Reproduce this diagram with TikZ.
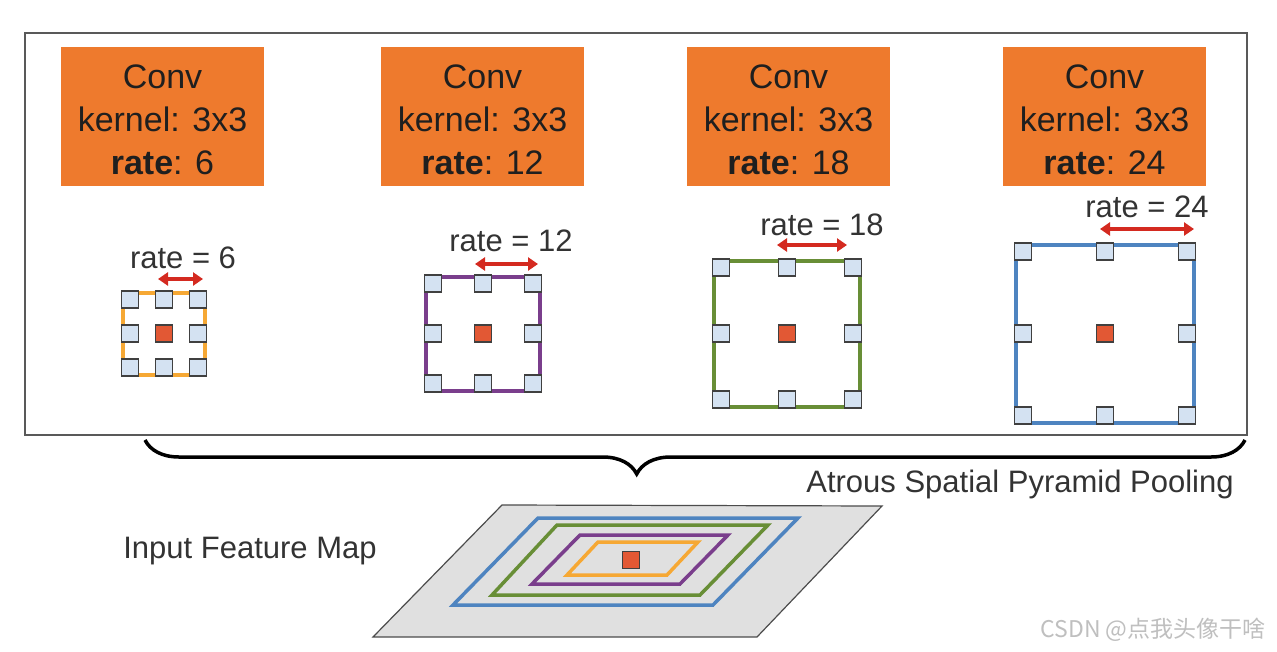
\documentclass[tikz,border=0pt]{standalone}
\usepackage{fontspec}
\setmainfont{Liberation Sans}
\newfontfamily\cjk{Noto Sans CJK SC}
\usetikzlibrary{arrows.meta,decorations.pathreplacing}
\definecolor{convorange}{RGB}{238,122,45}
\definecolor{kor}{RGB}{246,168,52}
\definecolor{kpu}{RGB}{122,62,140}
\definecolor{kgr}{RGB}{104,142,54}
\definecolor{kbl}{RGB}{78,132,192}
\definecolor{cellblue}{RGB}{212,226,242}
\definecolor{centre}{RGB}{226,88,52}
\definecolor{arrred}{RGB}{212,42,32}
\definecolor{mapgray}{RGB}{224,224,224}
\begin{document}
\begin{tikzpicture}[x=1pt,y=-1pt,
  convbox/.style={fill=convorange, minimum width=203pt, minimum height=139pt, inner sep=0},
  convtext/.style={align=center, font=\fontsize{34}{43}\selectfont, text=black!88, inner sep=0},
  kernelbox/.style={line width=4pt, inner sep=0, fill=white},
  cellbox/.style={draw=black!75, line width=1.5pt, fill=cellblue, minimum size=17pt, inner sep=0},
  ctrbox/.style={draw=black!75, line width=1.5pt, fill=centre, minimum size=17pt, inner sep=0},
  ratelab/.style={font=\fontsize{31}{31}\selectfont, text=black!80, inner sep=0},
  ratearrow/.style={arrred, line width=4pt, {Triangle[length=10pt,width=13pt]}-{Triangle[length=10pt,width=13pt]}},
  ring/.style={line width=3.5pt},
]
\useasboundingbox (0,0) rectangle (1277,651);
\fill[white] (0,0) rectangle (1277,651);

% frame
\node[draw=black!65, line width=1.5pt, minimum width=1222pt, minimum height=402pt, inner sep=0] (frame) at (636,234) {};

% conv boxes
\foreach \n/\cx/\r in {1/162.5/6, 2/482.5/12, 3/788.5/18, 4/1104.5/24} {
  \node[convbox] (c\n) at (\cx,116.5) {};
  \node[convtext] (t\n) at (\cx,119.5) {Conv\\kernel: 3x3\\\textbf{rate}: \r};
}

% kernels: name / centre x / half size / colour / arrow y / label x / label y / arrow start / arrow end / rate
\foreach \n/\cx/\h/\col/\ay/\lx/\ly/\xa/\xb/\r in {
   1/164/43/kor/279/183/258/158/203/6,
   2/483/59/kpu/264/511/241/475/538/12,
   3/787/75/kgr/245/822/225/777/847/18,
   4/1105/91/kbl/229/1147/207/1100/1194/24} {
  \pgfmathsetmacro{\inner}{2*\h-4}
  \pgfmathsetmacro{\off}{\h-9}
  \node[kernelbox, draw=\col, minimum size=\inner pt] (k\n) at (\cx,333.5) {};
  \foreach \i in {-1,0,1} {
    \foreach \j in {-1,0,1} {
      \node[cellbox] (k\n-\i-\j) at (\cx+\i*\off, 333.5+\j*\off) {};
    }
  }
  \node[ctrbox] (k\n-c) at (\cx,333.5) {};
  \coordinate (a\n l) at (\xa,\ay);
  \coordinate (a\n r) at (\xb,\ay);
  \draw[ratearrow] (a\n l) -- (a\n r);
  \node[ratelab] (r\n) at (\lx,\ly) {rate = \r};
}

% brace
\coordinate (bl) at (145,440);
\coordinate (br) at (1245,440);
\draw[line width=3.5pt, decorate, decoration={brace, mirror, amplitude=34pt, aspect=0.447}] (bl) -- (br);

\node[font=\fontsize{31}{31}\selectfont, text=black!80, inner sep=0] (aspp) at (1020,484) {Atrous Spatial Pyramid Pooling};
\node[font=\fontsize{31}{31}\selectfont, text=black!80, inner sep=0] (ifm) at (250,551) {Input Feature Map};

% feature map
\fill[mapgray] (373,637) -- (502,505) -- (882,506) -- (757,637) -- cycle;
\draw[black!70, line width=1.2pt] (373,637) -- (502,505) -- (882,506) -- (757,637) -- cycle;
\draw[ring, kbl] (453,605) -- (538,518) -- (798,518) -- (713,605) -- cycle;
\draw[ring, kgr] (492,595) -- (557,525) -- (768,525) -- (700,595) -- cycle;
\draw[ring, kpu] (532,584) -- (580,535) -- (728,535) -- (680,584) -- cycle;
\draw[ring, kor] (567,575) -- (598,542) -- (698,542) -- (667,575) -- cycle;
\node[ctrbox] (mapc) at (631,560) {};

% watermark
\node[font=\cjk\fontsize{23}{23}\selectfont, text=black!25, inner sep=0] (wm) at (1153,630) {CSDN @点我头像干啥};
\end{tikzpicture}
\end{document}
